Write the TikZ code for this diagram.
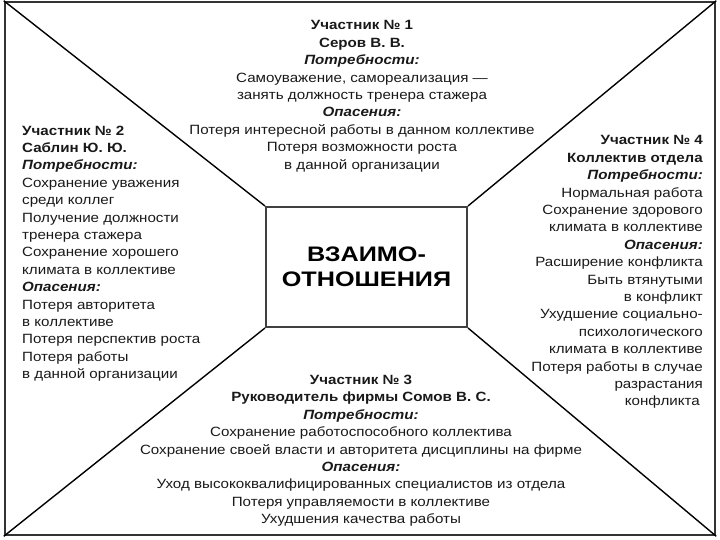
\documentclass[tikz,border=0pt]{standalone}
\usepackage{fontspec}
\setmainfont{Liberation Sans}
\newfontfamily\widefont[FakeStretch=1.13]{Liberation Sans}
\newfontfamily\widetitle[FakeStretch=1.2]{Liberation Sans}
\begin{document}
\begin{tikzpicture}[x=1pt,y=-1pt,
  frame/.style={draw=black!80, line width=2.5pt, rectangle, inner sep=0pt},
  corebox/.style={draw=black!75, line width=2pt, rectangle, inner sep=0pt, fill=white},
  diag/.style={draw=black, line width=1.4pt},
  txt/.style={inner sep=0pt, text=black!90, font=\widefont\fontsize{13.4}{17.4}\selectfont},
  bigtxt/.style={inner sep=0pt, text=black, font=\widetitle\bfseries\fontsize{21}{25}\selectfont, align=center}
]
\useasboundingbox (0,0) rectangle (720,540);
\node[frame, minimum width=710pt, minimum height=533pt] (frame) at (360,268.5) {};
\node[corebox, minimum width=201pt, minimum height=120pt] (core) at (366.5,267) {};
\draw[diag] (frame.north west) -- (core.north west);
\draw[diag] (frame.north east) -- (core.north east);
\draw[diag] (frame.south west) -- (core.south west);
\draw[diag] (frame.south east) -- (core.south east);
\node[bigtxt] (title) at (core.center) {ВЗАИМО-\\ОТНОШЕНИЯ};

\node[txt, align=center, anchor=north] (p1) at (362,20.5) {%
\textbf{Участник № 1}\\
\textbf{Серов В. В.}\\
\textbf{\textit{Потребности:}}\\
Самоуважение, самореализация —\\
занять должность тренера стажера\\
\textbf{\textit{Опасения:}}\\
Потеря интересной работы в данном коллективе\\
Потеря возможности роста\\
в данной организации};

\node[txt, align=left, anchor=north west] (p2) at (22,125.5) {%
\textbf{Участник № 2}\\
\textbf{Саблин Ю. Ю.}\\
\textbf{\textit{Потребности:}}\\
Сохранение уважения\\
среди коллег\\
Получение должности\\
тренера стажера\\
Сохранение хорошего\\
климата в коллективе\\
\textbf{\textit{Опасения:}}\\
Потеря авторитета\\
в коллективе\\
Потеря перспектив роста\\
Потеря работы\\
в данной организации};

\node[txt, align=right, anchor=north east] (p4) at (703,135.5) {%
\textbf{Участник № 4}\\
\textbf{Коллектив отдела}\\
\textbf{\textit{Потребности:}}\\
Нормальная работа\\
Сохранение здорового\\
климата в коллективе\\
\textbf{\textit{Опасения:}}\\
Расширение конфликта\\
Быть втянутыми\hspace*{10pt}\\
в конфликт\\
Ухудшение социально-\\
психологического\hspace*{10pt}\\
климата в коллективе\\
Потеря работы в случае\\
разрастания\hspace*{2pt}\\
конфликта\hspace*{3pt}};

\node[txt, align=center, anchor=north] (p3) at (361,375) {%
\textbf{Участник № 3}\\
\textbf{Руководитель фирмы Сомов В. С.}\\
\textbf{\textit{Потребности:}}\\
Сохранение работоспособного коллектива\\
Сохранение своей власти и авторитета дисциплины на фирме\\
\textbf{\textit{Опасения:}}\\
Уход высококвалифицированных специалистов из отдела\\
Потеря управляемости в коллективе\\
Ухудшения качества работы};
\end{tikzpicture}
\end{document}
